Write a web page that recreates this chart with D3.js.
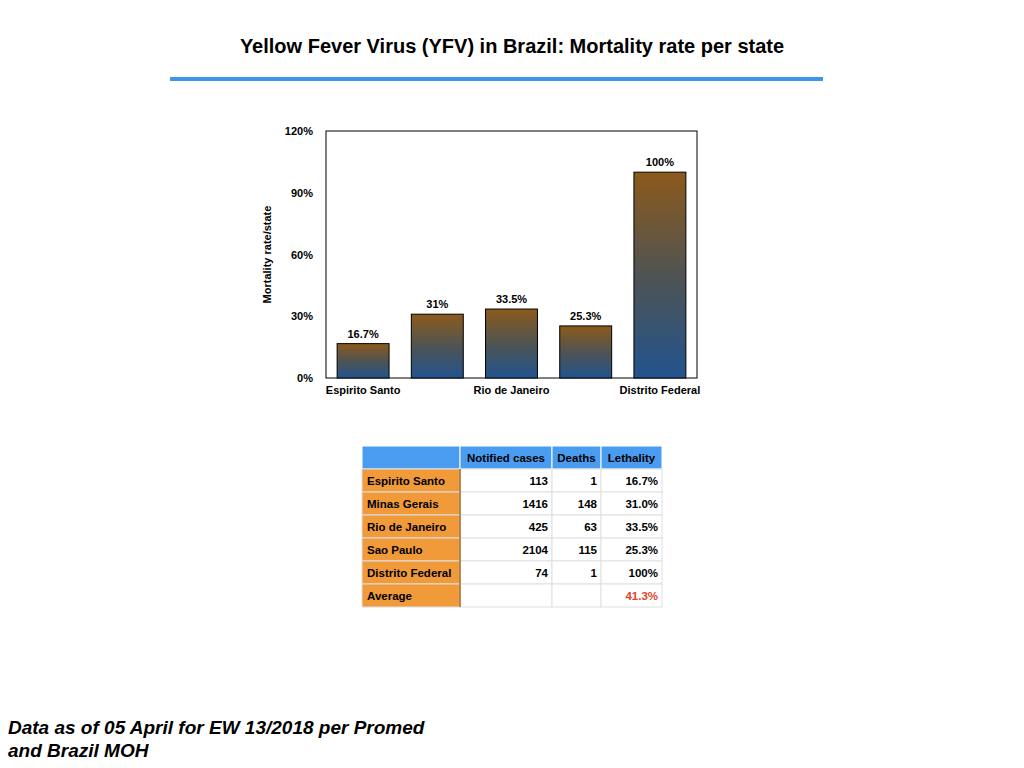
<!DOCTYPE html>
<html><head><meta charset="utf-8">
<script src="https://cdn.jsdelivr.net/npm/d3@7"></script>
<style>body{margin:0;background:#fff;font-family:"Liberation Sans",Arial,sans-serif}</style>
</head><body><div id="chart"></div>
<script>
const states = ["Espirito Santo", "Minas Gerais", "Rio de Janeiro", "Sao Paulo", "Distrito Federal"];
const rates = [16.7, 31, 33.5, 25.3, 100];
const rateLabels = ["16.7%", "31%", "33.5%", "25.3%", "100%"];
const yTicks = [0, 30, 60, 90, 120];
const cases = ["113", "1416", "425", "2104", "74", ""];
const deaths = ["1", "148", "63", "115", "1", ""];
const lethality = ["16.7%", "31.0%", "33.5%", "25.3%", "100%", "41.3%"];
const tableRows = states.concat(["Average"]);
const headers = ["", "Notified cases", "Deaths", "Lethality"];

const svg = d3.select("#chart").append("svg").attr("width", 1024).attr("height", 768);

svg.append("text").attr("x", 512).attr("y", 53).attr("text-anchor", "middle")
  .attr("font-size", 20).attr("font-weight", "bold").text("Yellow Fever Virus (YFV) in Brazil: Mortality rate per state");
svg.append("rect").attr("x", 170).attr("y", 77).attr("width", 653).attr("height", 4).attr("fill", "#3d97e8");

// bar chart
const m = {left: 326, top: 131, w: 371, h: 247};
const g = svg.append("g").attr("transform", `translate(${m.left},${m.top})`);
const x = d3.scaleBand().domain(states).range([0, m.w]).paddingInner(0.3).paddingOuter(0.15);
const y = d3.scaleLinear().domain([0, 120]).range([m.h, 0]);

const grad = svg.append("defs").append("linearGradient").attr("id", "barg")
  .attr("x1", 0).attr("y1", 0).attr("x2", 0).attr("y2", 1);
grad.append("stop").attr("offset", "0%").attr("stop-color", "#8c5a1c");
grad.append("stop").attr("offset", "55%").attr("stop-color", "#4a5358");
grad.append("stop").attr("offset", "100%").attr("stop-color", "#22548f");

g.append("rect").attr("width", m.w).attr("height", m.h).attr("fill", "none").attr("stroke", "#000").attr("stroke-width", 1);

g.selectAll(".bar").data(rates).join("rect")
  .attr("x", (d, i) => x(states[i])).attr("y", d => y(d))
  .attr("width", x.bandwidth()).attr("height", d => m.h - y(d))
  .attr("fill", "url(#barg)").attr("stroke", "#000").attr("stroke-width", 1);

g.selectAll(".lbl").data(rates).join("text")
  .attr("x", (d, i) => x(states[i]) + x.bandwidth() / 2).attr("y", d => y(d) - 6)
  .attr("text-anchor", "middle").attr("font-size", 11).attr("font-weight", "bold").text((d, i) => rateLabels[i]);

const yAxis = g.append("g").call(d3.axisLeft(y).tickValues(yTicks).tickFormat(d => d + "%").tickSize(0).tickPadding(13));
yAxis.select(".domain").remove();
yAxis.selectAll("text").attr("font-size", 11).attr("font-weight", "bold").attr("font-family", "Liberation Sans, Arial");

const xAxis = g.append("g").attr("transform", `translate(0,${m.h})`)
  .call(d3.axisBottom(x).tickSize(0).tickPadding(8).tickFormat((d, i) => i % 2 === 0 ? d : ""));
xAxis.select(".domain").remove();
xAxis.selectAll("text").attr("font-size", 11).attr("font-weight", "bold").attr("font-family", "Liberation Sans, Arial");

g.append("text").attr("transform", `translate(-55,${m.h / 2}) rotate(-90)`).attr("text-anchor", "middle")
  .attr("font-size", 11).attr("font-weight", "bold").text("Mortality rate/state");

// table
const colX = [362, 460, 552, 601, 662];
const rowH = 23, t0 = 446;
const tg = svg.append("g").attr("font-size", 11.5).attr("font-weight", "bold");
headers.forEach((h, c) => {
  tg.append("rect").attr("x", colX[c]).attr("y", t0).attr("width", colX[c + 1] - colX[c]).attr("height", rowH)
    .attr("fill", "#4a9cf0").attr("stroke", "#fff");
  tg.append("text").attr("x", (colX[c] + colX[c + 1]) / 2).attr("y", t0 + 16).attr("text-anchor", "middle").text(h);
});
tableRows.forEach((r, i) => {
  const ry = t0 + rowH * (i + 1);
  tg.append("rect").attr("x", colX[0]).attr("y", ry).attr("width", colX[1] - colX[0]).attr("height", rowH)
    .attr("fill", "#f09a3a").attr("stroke", "#e0e0e0");
  tg.append("text").attr("x", colX[0] + 5).attr("y", ry + 16).text(r);
  [cases[i], deaths[i], lethality[i]].forEach((v, c) => {
    tg.append("rect").attr("x", colX[c + 1]).attr("y", ry).attr("width", colX[c + 2] - colX[c + 1]).attr("height", rowH)
      .attr("fill", "#fff").attr("stroke", "#e0e0e0");
    tg.append("text").attr("x", colX[c + 2] - 4).attr("y", ry + 16).attr("text-anchor", "end")
      .attr("fill", i === 5 ? "#e0442a" : "#000").text(v);
  });
});
tg.append("line").attr("x1", colX[1]).attr("x2", colX[1]).attr("y1", t0 + rowH).attr("y2", t0 + rowH * 7)
  .attr("stroke", "#a06a2a").attr("stroke-width", 1.5);

svg.append("text").attr("x", 8).attr("y", 734).attr("font-size", 19).attr("font-weight", "bold").attr("font-style", "italic")
  .text("Data as of 05 April for EW 13/2018 per Promed");
svg.append("text").attr("x", 8).attr("y", 757).attr("font-size", 19).attr("font-weight", "bold").attr("font-style", "italic")
  .text("and Brazil MOH");
</script></body></html>
